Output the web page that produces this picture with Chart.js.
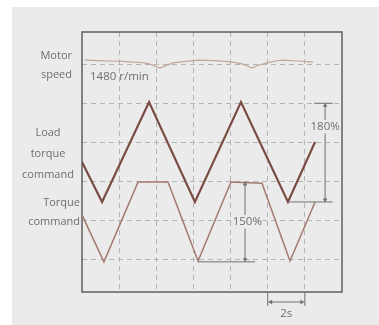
<!DOCTYPE html>
<html lang="en">
<head>
  <meta charset="UTF-8">
  <title>Motor speed / torque</title>
  <script src="https://cdn.jsdelivr.net/npm/chart.js"></script>
  <style>
    html, body { margin: 0; padding: 0; background: #fff; }
    #wrap { position: relative; width: 379px; height: 325px; overflow: hidden; }
    #panel { position: absolute; left: 12px; top: 7px; right: 0; bottom: 0; background: #ebebeb; }
    canvas { position: absolute; left: 0; top: 0; }
    .lbl { position: absolute; font-family: "Open Sans", sans-serif; font-size: 11px; color: #6e6e6e; line-height: 19px; }
  </style>
</head>
<body>
<div id="wrap">
  <div id="panel"></div>
  <canvas id="grafica" width="379" height="325"></canvas>
  <div class="lbl" style="left:20px; top:45px; width:52px; text-align:right;">Motor<br>speed</div>
  <div class="lbl" style="left:18px; top:121px; width:60px; text-align:center; line-height:21px;">Load<br>torque<br>command</div>
  <div class="lbl" style="left:20px; top:192px; width:60px; text-align:right;">Torque<br>command</div>
</div>

<script>
  // tiempo en segundos, valores en divisiones (1 división por línea)
  const speedT   = [0.16, 0.8, 1.51, 2.2, 2.75, 3.3, 3.66, 3.95, 4.2, 4.5, 4.9, 5.6, 6.35, 7.16, 7.7, 8.13, 8.67, 8.9, 9.15, 9.5, 9.96, 10.4, 10.82, 11.63, 12.44];
  const speedV   = [5.10, 5.09, 5.08, 5.07, 5.05, 5.04, 5.00, 4.95, 4.90, 4.96, 5.03, 5.07, 5.10, 5.09, 5.07, 5.05, 5.00, 4.95, 4.90, 4.97, 5.03, 5.08, 5.10, 5.08, 5.05];

  const loadT    = [0, 1.08, 3.61, 6.08, 8.56, 11.09, 12.55];
  const loadV    = [2.50, 1.48, 4.03, 1.48, 4.03, 1.48, 3.01];

  const torqueT  = [0, 1.18, 3.02, 4.63, 6.25, 8.02, 9.69, 11.20, 12.55];
  const torqueV  = [1.15, -0.05, 1.99, 1.99, -0.03, 1.99, 1.96, -0.03, 1.48];

  const xTicks = [2, 4, 6, 8, 10, 12];
  const yTicks = [0, 1, 2, 3, 4, 5];

  const pts = (t, v) => t.map((x, i) => ({ x: x, y: v[i] }));

  const textColor = "#6e6e6e";
  const font = '"Open Sans", sans-serif';

  function arrowHead(ctx, x, y, dir) {
    // dir: 'up','down','left','right'
    ctx.beginPath();
    const s = 3.5;
    if (dir === 'up')    { ctx.moveTo(x, y); ctx.lineTo(x - s * 0.7, y + s); ctx.lineTo(x + s * 0.7, y + s); }
    if (dir === 'down')  { ctx.moveTo(x, y); ctx.lineTo(x - s * 0.7, y - s); ctx.lineTo(x + s * 0.7, y - s); }
    if (dir === 'left')  { ctx.moveTo(x, y); ctx.lineTo(x + s, y - s * 0.7); ctx.lineTo(x + s, y + s * 0.7); }
    if (dir === 'right') { ctx.moveTo(x, y); ctx.lineTo(x - s, y - s * 0.7); ctx.lineTo(x - s, y + s * 0.7); }
    ctx.closePath();
    ctx.fill();
  }

  function label(ctx, txt, x, y, size, bg) {
    ctx.font = size + 'px ' + font;
    ctx.textAlign = 'center';
    ctx.textBaseline = 'middle';
    if (bg) {
      const w = ctx.measureText(txt).width;
      ctx.fillStyle = '#ebebeb';
      ctx.fillRect(x - w / 2 - 1, y - size / 2 - 1, w + 2, size + 2);
    }
    ctx.fillStyle = textColor;
    ctx.fillText(txt, x, y);
  }

  const annotations = {
    id: 'annotations',
    beforeDatasetsDraw(chart) {
      const { ctx, chartArea: a } = chart;
      ctx.save();
      ctx.strokeStyle = '#5f5f5f';
      ctx.lineWidth = 1.5;
      ctx.strokeRect(a.left, a.top, a.right - a.left, a.bottom - a.top);
      ctx.restore();
    },
    afterDatasetsDraw(chart) {
      const { ctx, chartArea: a } = chart;
      const X = chart.scales.x, Y = chart.scales.y;
      ctx.save();
      ctx.strokeStyle = '#707070';
      ctx.fillStyle = '#707070';
      ctx.lineWidth = 1;

      // 180 %
      const ax = X.getPixelForValue(13.09);
      const yTop = Y.getPixelForValue(4.0), yBot = Y.getPixelForValue(1.48);
      ctx.beginPath();
      ctx.moveTo(X.getPixelForValue(11.09), yBot); ctx.lineTo(X.getPixelForValue(13.5), yBot);
      ctx.moveTo(X.getPixelForValue(12.5), yTop); ctx.lineTo(X.getPixelForValue(13.5), yTop);
      ctx.moveTo(ax, yTop); ctx.lineTo(ax, yBot);
      ctx.stroke();
      arrowHead(ctx, ax, yTop, 'up');
      arrowHead(ctx, ax, yBot, 'down');
      label(ctx, '180%', ax, Y.getPixelForValue(3.4), 11.5, true);

      // 150 %
      const bx = X.getPixelForValue(8.78);
      const bTop = Y.getPixelForValue(1.99), bBot = Y.getPixelForValue(-0.05);
      ctx.fillStyle = '#707070';
      ctx.beginPath();
      ctx.moveTo(X.getPixelForValue(6.25), bBot); ctx.lineTo(X.getPixelForValue(9.32), bBot);
      ctx.moveTo(bx, bTop); ctx.lineTo(bx, bBot);
      ctx.stroke();
      arrowHead(ctx, bx, bTop, 'up');
      arrowHead(ctx, bx, bBot, 'down');
      label(ctx, '150%', X.getPixelForValue(8.9), Y.getPixelForValue(0.97), 11.5, true);

      // 2s
      const s1 = X.getPixelForValue(10), s2 = X.getPixelForValue(12);
      ctx.fillStyle = '#707070';
      ctx.beginPath();
      ctx.moveTo(s1, a.bottom); ctx.lineTo(s1, a.bottom + 14);
      ctx.moveTo(s2, a.bottom); ctx.lineTo(s2, a.bottom + 14);
      ctx.moveTo(s1, a.bottom + 10); ctx.lineTo(s2, a.bottom + 10);
      ctx.stroke();
      arrowHead(ctx, s1 + 1, a.bottom + 10, 'left');
      arrowHead(ctx, s2 - 1, a.bottom + 10, 'right');
      label(ctx, '2s', X.getPixelForValue(11), a.bottom + 22, 11.5, false);

      // 1480 r/min
      ctx.font = '11.5px ' + font;
      ctx.textAlign = 'left';
      ctx.textBaseline = 'middle';
      ctx.fillStyle = textColor;
      ctx.fillText('1480 r/min', X.getPixelForValue(0.43), Y.getPixelForValue(4.68));
      ctx.restore();
    }
  };

  const gridScale = (ticks, min, max) => ({
    type: 'linear',
    min: min,
    max: max,
    afterBuildTicks: s => { s.ticks = ticks.map(v => ({ value: v })); },
    ticks: { display: false },
    grid: { color: '#b4b4b4', lineWidth: 1, drawTicks: false },
    border: { display: false, dash: [5, 4] }
  });

  new Chart(document.getElementById('grafica'), {
    type: 'line',
    data: {
      datasets: [
        { label: 'Motor speed', data: pts(speedT, speedV), borderColor: '#c2a69c', borderWidth: 1.2 },
        { label: 'Load torque command', data: pts(loadT, loadV), borderColor: '#7a4b42', borderWidth: 2.2 },
        { label: 'Torque command', data: pts(torqueT, torqueV), borderColor: '#a27a6e', borderWidth: 1.5 }
      ]
    },
    options: {
      responsive: false,
      animation: false,
      layout: { padding: { left: 82, top: 32, right: 37, bottom: 33 } },
      elements: { point: { radius: 0 }, line: { tension: 0 } },
      plugins: { legend: { display: false }, tooltip: { enabled: false } },
      scales: {
        x: gridScale(xTicks, 0, 14),
        y: gridScale(yTicks, -0.82, 5.82)
      }
    },
    plugins: [annotations]
  });
</script>
</body>
</html>
